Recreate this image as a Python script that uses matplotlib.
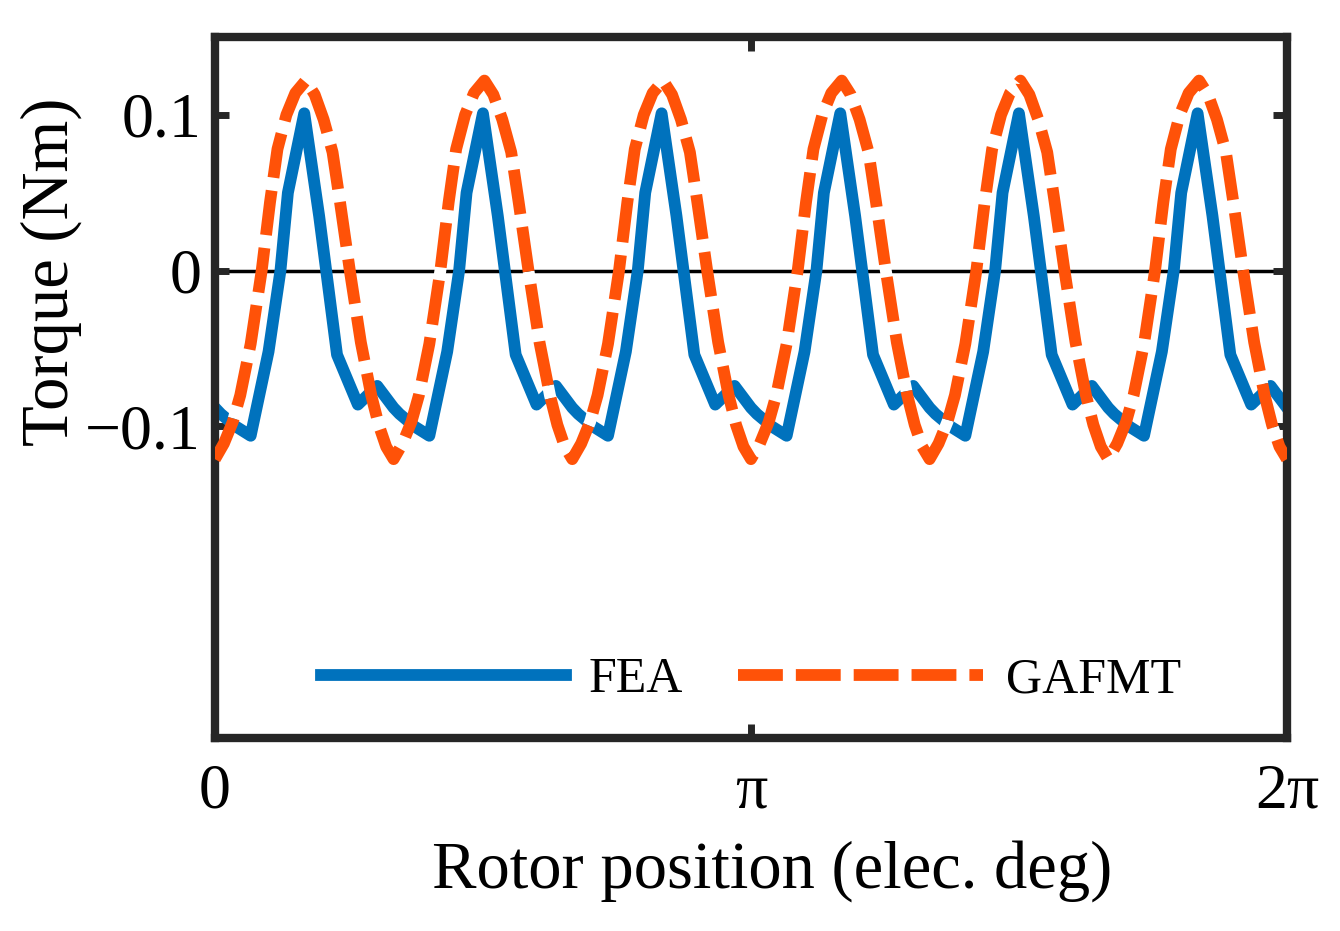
"""
Cogging torque over one electrical period: FEA vs GAFMT.
Output: out.png
"""
import numpy as np
import matplotlib
matplotlib.use("Agg")
import matplotlib.pyplot as plt

# one slot period (60 elec. deg), repeated 6x
period_deg = 60.0
n_periods = 6

fea_angle = [0.0, 2.0, 7.0, 12.0, 18.0, 22.0, 24.5, 30.0, 35.0, 41.0, 48.0, 54.5]
fea_torque = [-0.088, -0.092, -0.100, -0.106, -0.052, 0.000, 0.050, 0.101,
              0.035, -0.054, -0.086, -0.074]

gafmt_angle = [0.0, 3.0, 6.0, 8.5, 12.0, 15.7, 18.5, 21.0, 24.0, 27.0, 30.5,
               33.5, 36.5, 39.5, 42.0, 45.3, 49.0, 52.5, 55.0, 57.5]
gafmt_torque = [-0.121, -0.111, -0.097, -0.080, -0.047, 0.000, 0.044, 0.078,
                0.100, 0.114, 0.122, 0.113, 0.097, 0.076, 0.044, 0.000,
                -0.046, -0.080, -0.099, -0.113]

xtick_deg = [0, 180, 360]
xtick_labels = ["0", "\u03c0", "2\u03c0"]
ytick_vals = [-0.1, 0, 0.1]
ytick_labels = ["\u22120.1", "0", "0.1"]

BLUE = "#0072BD"
ORANGE = "#FF5208"
SPINE = "#262626"


def repeat_period(angle, torque):
    x = np.concatenate([np.asarray(angle) + k * period_deg for k in range(n_periods)])
    y = np.tile(torque, n_periods)
    # close the last period with its first sample
    x = np.append(x, n_periods * period_deg)
    y = np.append(y, torque[0])
    return x, y


plt.rcParams["font.family"] = ["Liberation Serif", "DejaVu Serif"]

fig = plt.figure(figsize=(13.4, 9.31), dpi=100)
ax = fig.add_axes([0.1604, 0.2073, 0.8, 0.753])

x_fea, y_fea = repeat_period(fea_angle, fea_torque)
x_ga, y_ga = repeat_period(gafmt_angle, gafmt_torque)

ax.axhline(0, color="black", lw=2.5, zorder=1)
ax.plot(x_fea, y_fea, color=BLUE, lw=8.5, solid_joinstyle="round",
        label="FEA", zorder=2)
ax.plot(x_ga, y_ga, color=ORANGE, lw=8.5, linestyle=(0, (3.8, 1.1)),
        gapcolor="white", dash_capstyle="butt", label="GAFMT", zorder=3)

ax.set_xlim(0, 360)
ax.set_ylim(-0.3, 0.15)
ax.set_xticks(xtick_deg, xtick_labels)
ax.set_yticks(ytick_vals, ytick_labels)

ax.tick_params(direction="in", length=10, width=5, color=SPINE,
               top=True, right=True, labelsize=46)
ax.tick_params(axis="x", pad=18)
ax.tick_params(axis="y", pad=10)
for s in ax.spines.values():
    s.set_linewidth(6)
    s.set_color(SPINE)

ax.set_xlabel("Rotor position (elec. deg)", fontsize=48)
ax.xaxis.set_label_coords(0.52, -0.145)
ax.set_ylabel("Torque (Nm)", fontsize=48)
ax.yaxis.set_label_coords(-0.124, 0.665)

ax.legend(loc="center", bbox_to_anchor=(0.5, 0.083), ncol=2, frameon=False,
          fontsize=36, handlelength=4.9, handletextpad=0.45, columnspacing=1.1)

fig.savefig("out.png", dpi=100)
